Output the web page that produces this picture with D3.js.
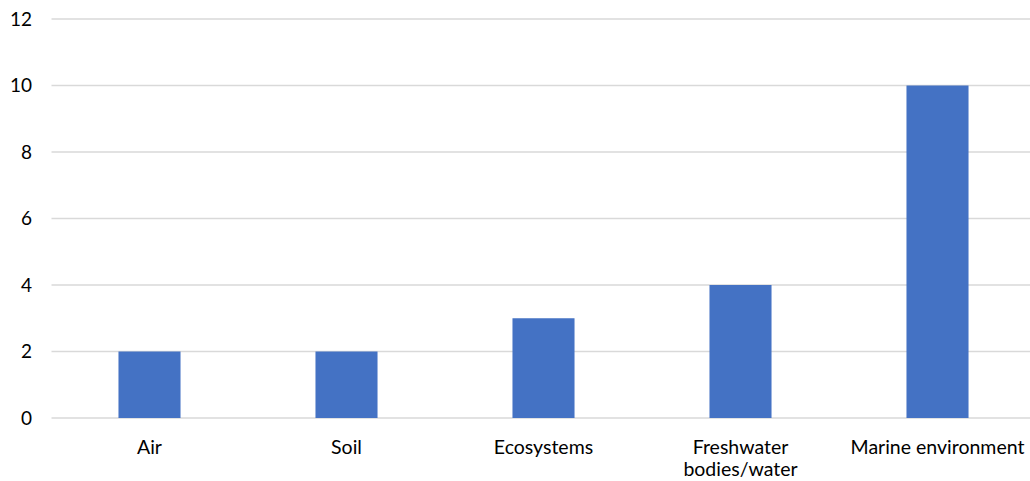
<!DOCTYPE html>
<html>
<head>
<meta charset="utf-8">
<script src="https://cdn.jsdelivr.net/npm/d3@7"></script>
<style>
  body { margin: 0; background: #fff; }
  text { font-family: Lato, "Open Sans", sans-serif; fill: #000; }
</style>
</head>
<body>
<div id="chart"></div>
<script>
const categories = ['Air', 'Soil', 'Ecosystems', 'Freshwater bodies/water', 'Marine environment'];
const labelLines = [['Air'], ['Soil'], ['Ecosystems'], ['Freshwater', 'bodies/water'], ['Marine environment']];
const values = [2, 2, 3, 4, 10];
const yTicks = [0, 2, 4, 6, 8, 10, 12];

const margin = { top: 19, right: 0, bottom: 63, left: 51.5 };
const width = 1030;
const height = 481;

const svg = d3.select('#chart')
  .append('svg')
  .attr('width', width)
  .attr('height', height);

const xScale = d3.scaleBand()
  .domain(categories)
  .range([margin.left - 0.5, margin.left + 984.5])
  .paddingInner(0.685)
  .paddingOuter(0.3425);

const yScale = d3.scaleLinear()
  .domain([0, 12])
  .range([height - margin.bottom, margin.top]);

// gridlines
svg.append('g')
  .selectAll('line')
  .data(yTicks)
  .enter()
  .append('line')
  .attr('x1', margin.left)
  .attr('x2', width)
  .attr('y1', d => yScale(d))
  .attr('y2', d => yScale(d))
  .attr('stroke', '#d9d9d9')
  .attr('stroke-width', 1.5);

// y tick labels
svg.append('g')
  .selectAll('text')
  .data(yTicks)
  .enter()
  .append('text')
  .attr('x', 32)
  .attr('y', d => yScale(d))
  .attr('dy', '0.35em')
  .attr('text-anchor', 'end')
  .attr('font-size', '19px')
  .text(d => d);

svg.selectAll('.bar')
  .data(values)
  .enter()
  .append('rect')
  .attr('class', 'bar')
  .attr('x', (d, i) => xScale(categories[i]))
  .attr('y', d => yScale(d))
  .attr('width', xScale.bandwidth())
  .attr('height', d => yScale(0) - yScale(d))
  .attr('fill', '#4472c4');

// category labels
const lbl = svg.append('g')
  .selectAll('text')
  .data(categories)
  .enter()
  .append('text')
  .attr('x', d => xScale(d) + xScale.bandwidth() / 2)
  .attr('y', 454)
  .attr('text-anchor', 'middle')
  .attr('font-size', '19.5px');

lbl.selectAll('tspan')
  .data((d, i) => labelLines[i])
  .enter()
  .append('tspan')
  .attr('x', function() { return d3.select(this.parentNode).attr('x'); })
  .attr('dy', (d, i) => i === 0 ? 0 : 22)
  .text(d => d);
</script>
</body>
</html>
